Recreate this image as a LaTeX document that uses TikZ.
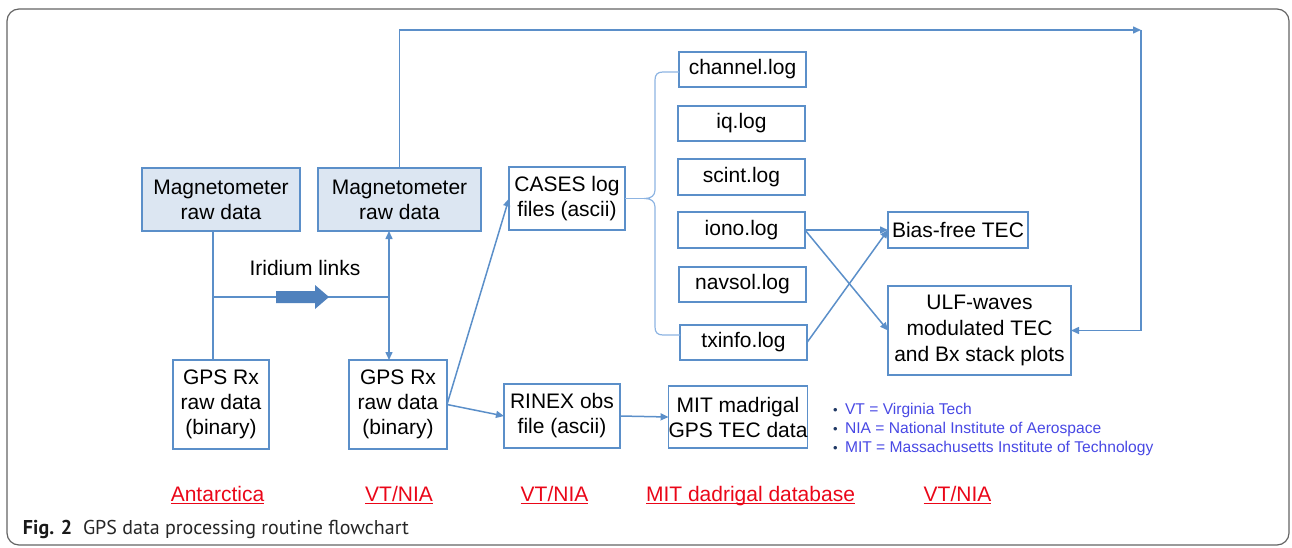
\documentclass[tikz,border=0pt]{standalone}
\usepackage{fontspec}
\setmainfont{Liberation Sans}
\newfontfamily\capfont{PT Sans}
\usetikzlibrary{arrows.meta,calc}
\definecolor{boxblue}{RGB}{91,143,201}
\definecolor{fillblue}{RGB}{220,230,242}
\definecolor{bracecol}{RGB}{141,180,226}
\definecolor{arrowfill}{RGB}{79,129,189}
\definecolor{labred}{RGB}{234,6,24}
\definecolor{legblue}{RGB}{72,72,228}
\definecolor{legdot}{RGB}{31,56,100}
\definecolor{framegray}{RGB}{100,100,100}
\begin{document}
\begin{tikzpicture}[x=1pt,y=-1pt,
  every node/.style={inner sep=0pt, outer sep=0pt},
  box/.style={draw=boxblue, line width=1.8pt, align=center,
    font=\fontsize{21}{25}\selectfont},
  shadedbox/.style={box, fill=fillblue},
  conn/.style={draw=boxblue, line width=1.5pt},
  tip/.style={-{Triangle[length=8pt,width=7pt]}},
  braceline/.style={draw=bracecol, line width=1.2pt},
  site/.style={anchor=base, text=labred, font=\fontsize{21}{25}\selectfont},
  legend/.style={anchor=base west, text=legblue, font=\fontsize{15.6}{18}\selectfont},
]
\useasboundingbox (0,0) rectangle (1292,548);
% outer frame
\draw[framegray, line width=1.2pt, rounded corners=12pt] (7,9) rectangle (1289,545);

% boxes
\node[shadedbox, minimum width=158pt, minimum height=63pt] (m1) at (221,199.5) {Magnetometer\\raw data};
\node[shadedbox, minimum width=163pt, minimum height=63pt] (m2) at (399.5,199.5) {Magnetometer\\raw data};
\node[box, minimum width=116pt, minimum height=63pt] (cases) at (567,198.5) {CASES log\\files (ascii)};
\node[box, minimum width=127pt, minimum height=35pt] (chan) at (742.5,69.5) {channel.log};
\node[box, minimum width=127pt, minimum height=35pt] (iq) at (741.5,123.5) {iq.log};
\node[box, minimum width=127pt, minimum height=36pt] (scint) at (741.5,177) {scint.log};
\node[box, minimum width=127pt, minimum height=36pt] (iono) at (741.5,230) {iono.log};
\node[box, minimum width=127pt, minimum height=35pt] (navsol) at (742.5,284.5) {navsol.log};
\node[box, minimum width=127pt, minimum height=35pt] (txinfo) at (743.5,342.5) {txinfo.log};
\node[box, minimum width=140pt, minimum height=36pt] (bias) at (958,230) {Bias-free TEC};
\node[box, minimum width=183pt, minimum height=89pt, font=\fontsize{21}{26}\selectfont] (ulf) at (979.5,330.5) {ULF-waves\\modulated TEC\\and Bx stack plots};
\node[box, minimum width=96pt, minimum height=89pt] (gl) at (221,404.5) {GPS Rx\\raw data\\(binary)};
\node[box, minimum width=98pt, minimum height=89pt] (gm) at (398,404.5) {GPS Rx\\raw data\\(binary)};
\node[box, minimum width=116pt, minimum height=64pt] (rinex) at (562,416) {RINEX obs\\file (ascii)};
\node[box, minimum width=138pt, minimum height=62pt] (mit) at (738,417) {MIT madrigal\\GPS TEC data};

% Iridium link between the two sites
\coordinate (jl) at (213,297);
\coordinate (jr) at (389,297);
\draw[conn] (jl |- m1.south) -- (jl |- gl.north);
\draw[conn] (jl) -- (jr);
\draw[conn, tip] (jr) -- (jr |- m2.south);
\draw[conn, tip] (jr) -- (jr |- gm.north);
\fill[arrowfill] (276,291) -- (315,291) -- (315,285) -- (329,297) -- (315,309) -- (315,303) -- (276,303) -- cycle;
\node[anchor=base, font=\fontsize{21}{25}\selectfont] (irid) at (305,275.5) {Iridium links};

% magnetometer data routed to the stack plots
\coordinate (tr) at (1141,30);
\draw[conn, tip] (m2.north) |- (tr);
\draw[conn, tip] (tr) |- (ulf.east);

% processing flow
\draw[conn, tip] (gm.east) -- (cases.west);
\draw[conn, tip] (gm.east) -- (rinex.west);
\draw[conn, tip] (rinex.east) -- (mit.west);
\draw[conn, tip] (iono.east) -- (bias.west);
\draw[conn, tip] (iono.east) -- (ulf.west);
\draw[conn, tip] (txinfo.east) -- (bias.west);

% brace grouping the log files
\coordinate (btip) at (645,198.5);
\draw[braceline] (cases.east) -- (btip);
\draw[braceline] (679,72) -- (663,72) .. controls (657.5,72) and (655,74.5) .. (655,80)
  -- (655,190) .. controls (655,195.5) and (651,198.5) .. (btip)
  .. controls (651,198.5) and (655,201.5) .. (655,207)
  -- (655,327) .. controls (655,332.5) and (657.5,335) .. (663,335) -- (680,335);

% legend
\node[legend] (l1) at (833,414) {\textcolor{legdot}{\fontsize{13}{13}\selectfont •}\hspace{7.5pt}VT = Virginia Tech};
\node[legend] (l2) at (833,433) {\textcolor{legdot}{\fontsize{13}{13}\selectfont •}\hspace{7.5pt}NIA = National Institute of Aerospace};
\node[legend] (l3) at (833,452) {\textcolor{legdot}{\fontsize{13}{13}\selectfont •}\hspace{7.5pt}MIT = Massachusetts Institute of Technology};

% site labels
\foreach \nm/\xx/\tx in {s1/217.5/Antarctica, s2/399/VT\slash NIA, s3/554.5/VT\slash NIA, s4/750.5/MIT dadrigal database, s5/957.5/VT\slash NIA}{
  \node[site] (\nm) at (\xx,501) {\tx};
  \draw[labred, line width=1.3pt] ([yshift=-2.8pt]\nm.base west) -- ([yshift=-2.8pt]\nm.base east);
}

% caption
\node[anchor=base west, font=\capfont\bfseries\fontsize{20}{22}\selectfont, text=black!90] (figno) at (23,534) {Fig. 2};
\node[anchor=base west, font=\capfont\fontsize{20}{22}\selectfont, text=black!85] (cap) at (83,534) {GPS data processing routine flowchart};
\end{tikzpicture}
\end{document}
